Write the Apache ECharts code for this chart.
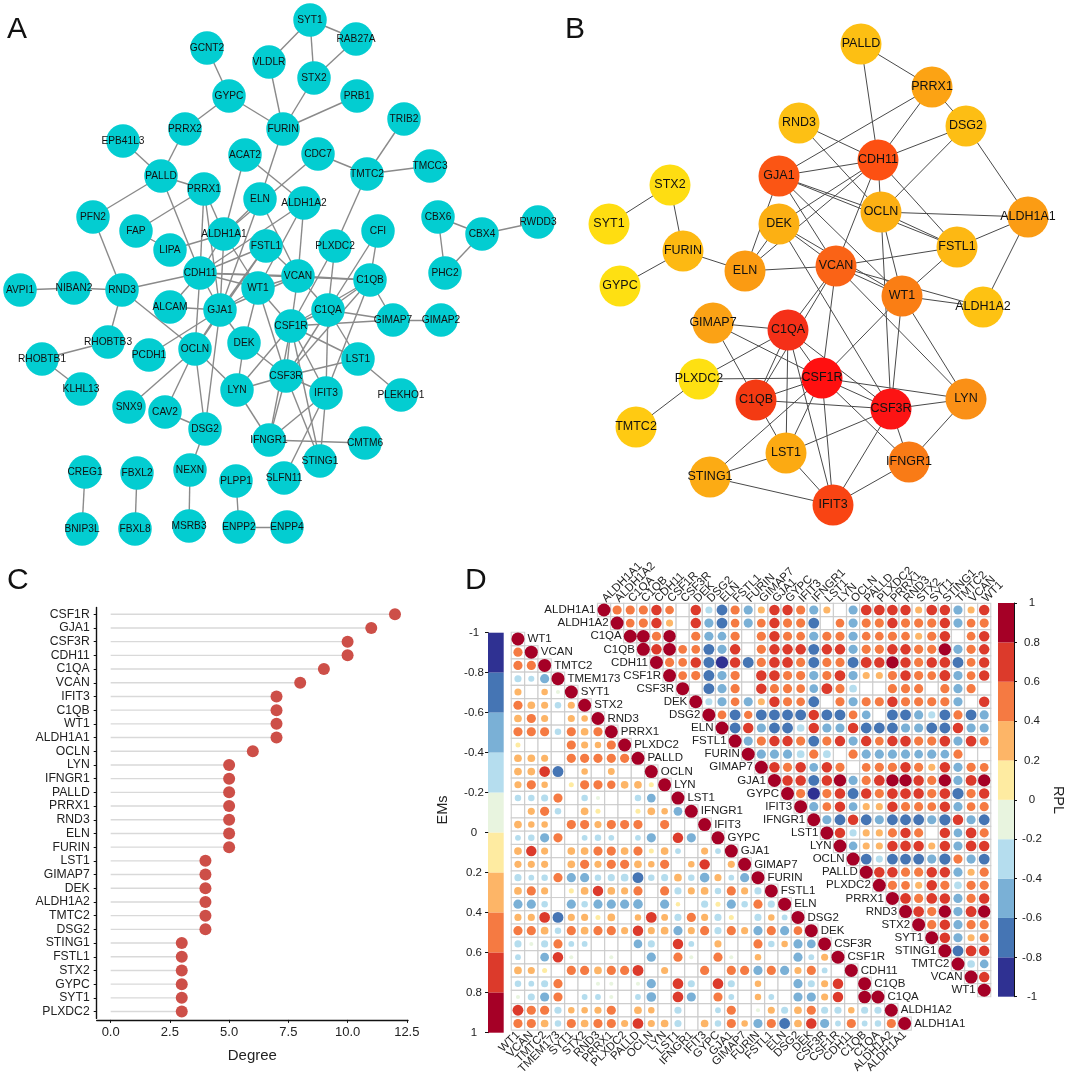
<!DOCTYPE html>
<html><head><meta charset="utf-8">
<style>html,body{margin:0;padding:0;background:#fff}#c{width:1065px;height:1077px}</style>
<script src="https://cdn.jsdelivr.net/npm/echarts@6/dist/echarts.min.js"></script>
</head><body><div id="c"></div>
<script>
// ---------- Panel A network ----------
const aNames=["SYT1","RAB27A","GCNT2","VLDLR","STX2","GYPC","PRB1","FURIN","PRRX2","TRIB2","EPB41L3","ACAT2","CDC7","TMTC2","TMCC3","PALLD","PRRX1","ELN","ALDH1A2","PFN2","FAP","LIPA","ALDH1A1","FSTL1","PLXDC2","CFI","CBX6","CBX4","RWDD3","PHC2","CDH11","VCAN","C1QB","WT1","AVPI1","NIBAN2","RND3","ALCAM","GJA1","C1QA","GIMAP7","GIMAP2","CSF1R","RHOBTB3","OCLN","DEK","PCDH1","RHOBTB1","LST1","CSF3R","KLHL13","LYN","IFIT3","PLEKHO1","SNX9","CAV2","DSG2","IFNGR1","CMTM6","STING1","NEXN","SLFN11","CREG1","FBXL2","PLPP1","BNIP3L","FBXL8","MSRB3","ENPP2","ENPP4"];
const aLayoutX=[310,356,207,269,314,229,357,283,185,404,123,245,318,367,430,161,204,260,304,93,136,170,224,266,335,378,438,482,538,445,200,298,370,258,20,74,122,170,220,328,393,441,291,108,195,244,149,42,358,286,81,237,326,401,129,165,205,269,365,320,190,284,85,137,236,82,135,189,239,287];
const aLayoutY=[20,39,48,62,78,96,96,129,129,119,141,155,154,174,166,176,189,199,203,217,231,250,234,246,246,231,217,234,222,273,273,276,280,288,290,288,290,307,310,310,320,320,326,342,349,343,355,359,359,376,389,390,393,395,407,412,429,440,443,461,470,478,472,473,481,529,529,526,527,527];
const aEdges=[["SYT1","RAB27A"],["SYT1","VLDLR"],["SYT1","STX2"],["RAB27A","STX2"],["GCNT2","GYPC"],["VLDLR","FURIN"],["STX2","FURIN"],["GYPC","FURIN"],["GYPC","PRRX2"],["PRB1","FURIN"],["PRRX2","PALLD"],["EPB41L3","PALLD"],["TRIB2","TMTC2"],["CDC7","TMTC2"],["TMCC3","TMTC2"],["CDC7","ALDH1A1"],["FURIN","ELN"],["ACAT2","ALDH1A2"],["ACAT2","ALDH1A1"],["PALLD","PRRX1"],["PALLD","PFN2"],["PALLD","CDH11"],["PRRX1","FAP"],["PRRX1","CDH11"],["PRRX1","ALDH1A1"],["PRRX1","GJA1"],["ELN","GJA1"],["ELN","ALDH1A1"],["ELN","VCAN"],["ALDH1A2","CDH11"],["ALDH1A2","VCAN"],["ALDH1A2","WT1"],["TMTC2","PLXDC2"],["PFN2","RND3"],["FAP","LIPA"],["LIPA","ALDH1A1"],["ALDH1A1","CDH11"],["ALDH1A1","WT1"],["ALDH1A1","GJA1"],["FSTL1","CDH11"],["FSTL1","VCAN"],["FSTL1","GJA1"],["FSTL1","OCLN"],["CFI","C1QA"],["CFI","C1QB"],["PLXDC2","C1QA"],["PLXDC2","CSF1R"],["CBX6","CBX4"],["CBX6","PHC2"],["CBX4","PHC2"],["CBX4","RWDD3"],["CDH11","VCAN"],["CDH11","C1QB"],["VCAN","C1QB"],["VCAN","C1QA"],["VCAN","WT1"],["VCAN","CSF1R"],["CDH11","RND3"],["CDH11","WT1"],["CDH11","GJA1"],["CDH11","OCLN"],["CDH11","ALCAM"],["AVPI1","NIBAN2"],["NIBAN2","RND3"],["RND3","RHOBTB3"],["RND3","OCLN"],["RHOBTB3","RHOBTB1"],["RHOBTB1","KLHL13"],["ALCAM","GJA1"],["GJA1","WT1"],["GJA1","VCAN"],["GJA1","OCLN"],["GJA1","PCDH1"],["GJA1","DEK"],["GJA1","DSG2"],["WT1","DEK"],["WT1","CSF1R"],["WT1","CSF3R"],["C1QB","C1QA"],["C1QB","GIMAP7"],["C1QB","CSF1R"],["C1QB","CSF3R"],["C1QB","IFIT3"],["C1QA","GIMAP7"],["C1QA","CSF1R"],["C1QA","CSF3R"],["C1QA","LST1"],["C1QA","IFIT3"],["GIMAP7","GIMAP2"],["GIMAP7","CSF1R"],["CSF1R","LST1"],["CSF1R","CSF3R"],["CSF1R","LYN"],["CSF1R","IFIT3"],["CSF1R","IFNGR1"],["CSF1R","STING1"],["DEK","CSF3R"],["DEK","LYN"],["OCLN","LYN"],["OCLN","SNX9"],["OCLN","CAV2"],["OCLN","DSG2"],["CAV2","DSG2"],["DSG2","NEXN"],["NEXN","MSRB3"],["LST1","CSF3R"],["LST1","PLEKHO1"],["CSF3R","LYN"],["CSF3R","IFIT3"],["CSF3R","IFNGR1"],["CSF3R","STING1"],["LYN","IFNGR1"],["IFIT3","IFNGR1"],["IFIT3","STING1"],["IFIT3","SLFN11"],["IFNGR1","CMTM6"],["CREG1","BNIP3L"],["FBXL2","FBXL8"],["PLPP1","ENPP2"],["ENPP2","ENPP4"]];
// ---------- Panel B network ----------
const bNames=["PALLD","PRRX1","DSG2","RND3","CDH11","GJA1","STX2","OCLN","ALDH1A1","SYT1","DEK","FURIN","FSTL1","ELN","VCAN","GYPC","WT1","ALDH1A2","GIMAP7","C1QA","CSF1R","PLXDC2","LYN","C1QB","CSF3R","TMTC2","LST1","IFNGR1","STING1","IFIT3"];
const bLayoutX=[861,932,966,799,878,779,670,881,1028,609,779,683,957,745,836,620,902,983,713,788,822,699,966,756,891,636,786,909,710,833];
const bLayoutY=[44,87,126,123,160,176,185,212,217,224,224,251,247,271,266,286,296,307,323,330,378,379,399,400,409,427,453,462,477,505];
const bNodeColors=["#fdbf13","#fca314","#fdbe14","#fdc014","#fd5012","#fb5514","#fedd12","#fcb013","#fb9c14","#ffdd11","#fcb013","#fdb912","#fdb813","#fb9b12","#fa6316","#fee012","#fa7e14","#fec212","#fba215","#f53018","#ff1010","#fee012","#fa9016","#f43a12","#fc1414","#ffca12","#fcaa12","#f97b16","#fcab14","#f94413"];
const bEdges=[["PALLD","PRRX1"],["PALLD","CDH11"],["PRRX1","DSG2"],["PRRX1","CDH11"],["PRRX1","GJA1"],["DSG2","CDH11"],["DSG2","OCLN"],["DSG2","ALDH1A1"],["RND3","CDH11"],["RND3","OCLN"],["GJA1","CDH11"],["GJA1","OCLN"],["GJA1","FSTL1"],["CDH11","OCLN"],["CDH11","DEK"],["CDH11","ELN"],["CDH11","VCAN"],["CDH11","FSTL1"],["GJA1","ELN"],["GJA1","VCAN"],["GJA1","WT1"],["DEK","ELN"],["DEK","VCAN"],["DEK","WT1"],["DEK","CSF3R"],["OCLN","ALDH1A1"],["OCLN","FSTL1"],["OCLN","WT1"],["OCLN","CSF3R"],["FSTL1","ALDH1A1"],["FSTL1","VCAN"],["FSTL1","WT1"],["ALDH1A1","ALDH1A2"],["ELN","FURIN"],["ELN","VCAN"],["FURIN","STX2"],["FURIN","GYPC"],["STX2","SYT1"],["VCAN","C1QA"],["VCAN","C1QB"],["VCAN","CSF1R"],["VCAN","WT1"],["VCAN","ALDH1A2"],["VCAN","LYN"],["WT1","ALDH1A2"],["WT1","CSF1R"],["WT1","CSF3R"],["WT1","LYN"],["GIMAP7","C1QA"],["GIMAP7","CSF1R"],["GIMAP7","C1QB"],["C1QA","PLXDC2"],["C1QA","C1QB"],["C1QA","CSF1R"],["C1QA","CSF3R"],["C1QA","LST1"],["C1QA","IFIT3"],["PLXDC2","CSF1R"],["PLXDC2","TMTC2"],["C1QB","CSF1R"],["C1QB","CSF3R"],["C1QB","LST1"],["CSF1R","CSF3R"],["CSF1R","LYN"],["CSF1R","IFNGR1"],["CSF1R","IFIT3"],["CSF1R","LST1"],["CSF1R","STING1"],["CSF3R","LYN"],["CSF3R","IFNGR1"],["CSF3R","IFIT3"],["CSF3R","LST1"],["LYN","IFNGR1"],["LST1","STING1"],["LST1","IFIT3"],["STING1","IFIT3"],["IFNGR1","IFIT3"]];
// ---------- Panel C lollipop ----------
const degreeGenes=["CSF1R","GJA1","CSF3R","CDH11","C1QA","VCAN","IFIT3","C1QB","WT1","ALDH1A1","OCLN","LYN","IFNGR1","PALLD","PRRX1","RND3","ELN","FURIN","LST1","GIMAP7","DEK","ALDH1A2","TMTC2","DSG2","STING1","FSTL1","STX2","GYPC","SYT1","PLXDC2"];
const degreeValues=[12,11,10,10,9,8,7,7,7,7,6,5,5,5,5,5,5,5,4,4,4,4,4,4,3,3,3,3,3,3];
const degreeTicks=[0,2.5,5,7.5,10,12.5];
// ---------- Panel D correlation triangles ----------
const lowerGenes=["WT1","VCAN","TMTC2","TMEM173","SYT1","STX2","RND3","PRRX1","PLXDC2","PALLD","OCLN","LYN","LST1","IFNGR1","IFIT3","GYPC","GJA1","GIMAP7","FURIN","FSTL1","ELN","DSG2","DEK","CSF3R","CSF1R","CDH11","C1QB","C1QA","ALDH1A2","ALDH1A1"];
const upperGenes=["ALDH1A1","ALDH1A2","C1QA","C1QB","CDH11","CSF1R","CSF3R","DEK","DSG2","ELN","FSTL1","FURIN","GIMAP7","GJA1","GYPC","IFIT3","IFNGR1","LST1","LYN","OCLN","PALLD","PLXDC2","PRRX1","RND3","STX2","SYT1","STING1","TMTC2","VCAN","WT1"];
// lowerRows[i] = values of columns 0..i-1; 0 = blank cell
const lowerRows=[[],
[.5],
[.5,.5],
[-.3,-.22,-.5],
[.3,0,.25,-.1],
[.5,.35,.3,-.25,.3],
[.35,.5,.3,0,.3,.25],
[.5,.5,.5,-.25,.5,.35,.5],
[.15,0,0,0,.5,.3,.25,.5],
[.35,.35,.3,0,.5,.5,.5,.5,.5],
[.35,.35,.68,-.7,0,.25,0,.28,0,0],
[.3,.5,.25,0,.15,.5,.5,.42,.35,.35,.15],
[-.25,-.25,-.3,.5,0,-.25,-.1,0,0,-.25,-.45,0],
[0,.3,.5,-.25,0,.35,.15,0,0,.15,.35,.25,-.45],
[.35,.25,.25,0,.5,.5,.3,.5,.5,.5,0,.5,0,0],
[-.2,-.25,-.5,.5,0,-.2,-.25,-.2,0,-.2,-.5,0,.65,-.5,0],
[.35,.65,.3,0,.35,.35,.5,.5,.35,.5,.15,.35,-.2,0,.3,-.2],
[.3,.3,.3,0,.35,.5,.3,.5,.5,.35,.25,.5,0,.25,.65,0,.3],
[-.3,-.2,-.25,.5,-.5,-.5,-.25,-.3,-.35,-.7,-.25,-.3,.35,-.25,-.55,.3,-.2,-.5],
[.35,.5,.3,0,.15,.35,.65,.35,.3,.5,0,.5,-.3,.3,.35,-.25,.5,.3,-.3],
[-.5,-.5,-.25,0,-.5,-.25,-.5,-.5,-.5,-.55,0,-.5,.12,0,-.3,.15,-.5,-.25,.5,-.3],
[.3,.3,.68,-.7,.3,.3,.15,.35,0,.25,.68,.28,-.3,.5,.3,-.3,.15,0,-.3,.25,-.2],
[.5,.5,.35,-.25,.5,.35,.5,.5,.3,.65,.3,.35,-.5,.3,.5,-.3,.5,.3,-.5,.5,-.5,.45],
[-.3,-.1,-.3,.5,-.2,-.2,0,0,0,-.45,-.3,0,.65,-.2,0,.3,0,0,.5,-.25,.25,-.5,-.45],
[-.2,0,-.45,.65,-.1,0,0,-.1,0,0,-.5,0,.5,-.1,0,.5,-.1,0,.25,0,0,-.5,-.2,.3],
[.35,.3,.15,0,.5,.5,.35,.5,.5,.7,0,.3,0,0,.5,0,.5,.5,-.5,.5,-.5,.3,.5,-.2,0],
[-.25,-.2,-.3,.5,0,0,-.1,-.1,0,-.1,-.5,0,.68,-.3,0,.68,-.3,0,.25,0,0,-.5,-.3,.3,.65,0],
[-.1,-.3,-.5,.5,0,-.2,-.2,-.1,0,-.2,-.55,0,.68,-.5,0,.5,-.2,0,.25,-.2,0,-.5,-.5,.3,.65,0,.95],
[.7,.5,.5,-.3,.25,.25,.3,.5,0,.35,.25,0,-.3,0,0,-.2,.5,0,-.1,.3,-.3,.35,.5,-.3,-.3,.25,-.3,-.3],
[.5,.5,.35,-.25,.5,.35,.5,.5,.3,.68,.3,.35,-.3,0,.35,-.25,.5,.25,-.5,.5,-.7,.35,.65,-.5,-.2,.5,-.2,-.25,.5]];
// upperRows[i] = values of columns i+1..29; 0 = blank cell
const upperRows=[
[.5,.5,.5,.65,.45,0,.65,-.3,-.7,.5,-.5,.3,.65,.65,.5,-.5,.3,0,-.5,.68,.68,.68,.65,.3,.68,.65,-.5,.3,.65],
[.45,.5,.65,.3,0,.65,-.5,-.7,.45,-.5,.45,.65,.5,.5,-.7,0,.45,-.5,.5,.5,.65,.5,.5,.5,.65,-.5,.45,.5],
[.95,.5,.9,0,.5,-.5,-.45,.5,0,.5,.65,.5,.45,-.5,.5,.5,-.5,.45,.45,.5,.45,.3,.5,.65,0,.45,.65],
[.65,.95,.45,.45,-.7,-.5,.65,0,.5,.65,.65,.65,-.7,.65,.65,-.5,.5,.5,.65,.65,.5,.5,.9,-.5,.5,.65],
[.5,.45,.65,-.7,-.9,.65,-.7,.5,.68,.68,.5,-.7,.5,.5,-.7,.7,.65,.9,.65,.5,.65,.68,-.7,.45,.65],
[.45,.5,-.7,-.5,.5,0,.65,.68,.5,.5,-.5,.5,.68,-.5,.3,.3,.5,.65,.5,.45,.7,-.5,.45,.65],
[0,-.7,-.5,.5,0,.65,.5,.5,.45,-.45,.7,.5,-.35,0,0,.5,.5,.5,0,.5,-.5,.5,0],
[-.3,-.5,.45,-.5,.3,.65,.5,.45,-.7,0,.5,-.5,.5,.5,.65,.5,.5,.5,.5,-.5,0,.65],
[.45,-.7,.42,-.7,-.7,-.7,-.7,.65,-.7,-.7,.45,-.45,0,-.7,-.7,-.5,-.3,-.7,.5,-.7,-.5],
[-.7,.65,-.5,-.7,-.7,-.35,.65,-.5,-.5,.65,-.7,-.7,-.7,-.5,-.5,-.7,-.7,.65,-.5,-.5],
[-.5,.5,.65,.65,.5,-.7,.5,.65,-.5,.65,.45,.65,.68,.5,.5,.68,-.5,.68,.5],
[-.5,-.5,-.5,-.35,.5,-.35,0,.5,-.5,-.5,-.5,-.5,-.45,-.5,-.45,.5,0,0],
[.65,.5,.65,-.45,.65,.5,0,.45,.5,.5,.65,.5,.3,.65,-.5,.5,.45],
[.65,.65,-.7,.65,.9,-.5,.5,.68,.9,.9,.65,.5,.9,-.5,.7,.9],
[.5,-.9,.5,.65,-.7,.65,.5,.68,.68,.65,.5,.68,-.75,.5,.65],
[-.5,.45,.65,-.45,.3,.3,.65,.5,.5,.45,.65,-.5,.45,.5],
[-.5,-.7,.65,-.7,-.5,-.7,-.7,-.7,-.5,-.75,.65,-.5,-.7],
[.65,-.3,.3,.3,.5,.65,.5,0,.65,-.45,.68,.5],
[-.45,.3,.3,.65,.68,.65,.3,.65,-.5,.68,.65],
[-.7,-.3,-.7,-.7,-.7,-.5,-.75,.5,-.5,-.7],
[.65,.65,.5,.5,.65,.65,-.5,.3,.5],
[.5,.45,.3,.65,.5,-.35,.5,.5],
[.68,.5,.68,.65,-.5,.5,.65],
[.68,.5,.9,-.5,.7,.9],
[.5,.65,-.5,.5,.5],
[.65,-.5,.3,.5],
[-.7,.68,.65],
[-.35,-.45],
[.65],
[]];
const levelTicks=[-1,-.8,-.6,-.4,-.2,0,.2,.4,.6,.8,1];
const levelColors=["#2f3192","#4575b4","#7ab0d6","#b5ddee","#e8f4df","#feeba1","#fdb567","#f57a42","#dc3a2b","#a50026"];

// ---------- helpers ----------
const FONT='"Liberation Sans",Arial,sans-serif';
const colorOf=v=>levelColors[Math.max(0,Math.floor((v+1)/.2-1e-9))];
const dotSize=v=>13*Math.sqrt(Math.abs(v));
function graphSeries(names,xs,ys,edges,size,fs,color,lc,lw){
  return {type:'graph',layout:'none',coordinateSystem:'cartesian2d',xAxisIndex:0,yAxisIndex:0,symbol:'circle',symbolSize:size,animation:false,silent:true,
    data:names.map((n,i)=>({name:n,value:[xs[i],ys[i]],itemStyle:{color:typeof color==='string'?color:color[i]}})),
    links:edges.map(e=>({source:e[0],target:e[1]})),
    lineStyle:{color:lc,width:lw,opacity:1,curveness:0},
    label:{show:true,position:'inside',formatter:'{b}',color:'#111',fontFamily:FONT,fontSize:fs}};
}
function cellData(rows,upper){
  const out=[];
  rows.forEach((r,i)=>r.forEach((v,k)=>{const j=upper?i+1+k:k;out.push([j,i,v]);}));
  return out;
}
const lowerCells=cellData(lowerRows,false), upperCells=cellData(upperRows,true);
const diag=lowerGenes.map((_,i)=>[i,i,1]);
function triangleSeries(cells,gi,cw,genes,pos,dist){
  return [
   {type:'scatter',xAxisIndex:gi,yAxisIndex:gi,symbol:'rect',symbolSize:cw,animation:false,silent:true,
    data:cells.concat(diag),itemStyle:{color:'#fff',borderColor:'#c9c9c9',borderWidth:1.2}},
   {type:'scatter',xAxisIndex:gi,yAxisIndex:gi,symbol:'circle',animation:false,silent:true,z:3,
    data:cells.filter(c=>c[2]!==0),symbolSize:d=>dotSize(d[2]),itemStyle:{color:p=>colorOf(p.value[2]),opacity:1}},
   {type:'scatter',xAxisIndex:gi,yAxisIndex:gi,symbol:'circle',animation:false,silent:true,z:4,
    data:diag,symbolSize:d=>dotSize(d[2]),itemStyle:{color:levelColors[9],opacity:1},
    label:{show:true,position:pos,distance:dist,color:'#222',fontFamily:FONT,fontSize:11.5,formatter:p=>genes[p.value[0]]}}
  ];
}
function barSeries(gi){
  return {type:'custom',xAxisIndex:gi,yAxisIndex:gi,animation:false,silent:true,
    data:levelColors.map((c,i)=>[levelTicks[i],levelTicks[i+1]]),
    encode:{y:[0,1]},
    renderItem:(p,api)=>{
      const a=api.coord([0,api.value(0)]),b=api.coord([1,api.value(1)]);
      return {type:'rect',shape:{x:a[0],y:Math.min(a[1],b[1]),width:b[0]-a[0],height:Math.abs(b[1]-a[1])},style:{fill:levelColors[p.dataIndex]}};
    }};
}
const fmtLevel=v=>String(Math.round(v*10)/10);
const hiddenVal=(min,max,inv)=>({type:'value',show:false,min,max,inverse:!!inv,splitLine:{show:false}});
const triAxisX=(gi,genes,pos,rot,al)=>({type:'category',gridIndex:gi,data:genes,position:pos,boundaryGap:true,axisLine:{show:false},axisTick:{show:false},splitLine:{show:false},
   axisLabel:Object.assign({interval:0,rotate:rot,margin:3,fontFamily:FONT,fontSize:11.5,color:'#222',hideOverlap:false},al||{})});
const triAxisY=(gi,genes)=>({type:'category',gridIndex:gi,data:genes,inverse:true,show:false});

const option={
  backgroundColor:'#fff',
  animation:false,
  textStyle:{fontFamily:FONT},
  grid:[
    {left:0,top:0,width:1065,height:1077},
    {left:96.7,top:607.4,width:311.3,height:411},
    {left:511.3,top:632.3,width:400,height:400},
    {left:597.45,top:603.45,width:393.3,height:393.3},
    {left:488,top:632.7,width:15.7,height:400},
    {left:998,top:603,width:16,height:393.7}
  ],
  xAxis:[
    Object.assign(hiddenVal(0,1065),{gridIndex:0}),
    {type:'value',gridIndex:1,min:-0.59,max:12.55,offset:1.5,splitLine:{show:false},
      name:'Degree',nameLocation:'middle',nameGap:28,nameTextStyle:{fontFamily:FONT,fontSize:15,color:'#222'},
      axisLine:{show:true,onZero:false,lineStyle:{color:'#111',width:1.4}},
      axisTick:{show:true,length:3,customValues:degreeTicks,lineStyle:{color:'#111'}},
      axisLabel:{customValues:degreeTicks,formatter:v=>v.toFixed(1),fontFamily:FONT,fontSize:13,color:'#222',margin:6}},
    triAxisX(2,lowerGenes,'bottom',45),
    triAxisX(3,upperGenes,'top',-45,{align:'left',verticalAlign:'middle'}),
    Object.assign(hiddenVal(0,1),{gridIndex:4}),
    Object.assign(hiddenVal(0,1),{gridIndex:5})
  ],
  yAxis:[
    Object.assign(hiddenVal(0,1077,true),{gridIndex:0}),
    {type:'category',gridIndex:1,data:degreeGenes,inverse:true,
      axisLine:{show:true,onZero:false,lineStyle:{color:'#111',width:1.4}},
      axisTick:{show:true,length:3,alignWithLabel:true,lineStyle:{color:'#111'}},
      axisLabel:{interval:0,fontFamily:FONT,fontSize:12.2,color:'#222',margin:7}},
    triAxisY(2,lowerGenes),
    triAxisY(3,upperGenes),
    {type:'value',gridIndex:4,position:'left',inverse:true,min:-1,max:1,interval:.2,splitLine:{show:false},
      axisLine:{show:true,onZero:false,lineStyle:{color:'#111'}},axisTick:{show:true,length:3,lineStyle:{color:'#111'}},
      axisLabel:{formatter:fmtLevel,align:'center',margin:14,fontFamily:FONT,fontSize:11.5,color:'#222'}},
    {type:'value',gridIndex:5,position:'right',min:-1,max:1,interval:.2,splitLine:{show:false},
      axisLine:{show:true,onZero:false,lineStyle:{color:'#111'}},axisTick:{show:true,length:3,lineStyle:{color:'#111'}},
      axisLabel:{formatter:fmtLevel,align:'center',margin:18,fontFamily:FONT,fontSize:11.5,color:'#222'}}
  ],
  series:[
    graphSeries(aNames,aLayoutX,aLayoutY,aEdges,33.5,10.2,'#03cdd1','#8a8a8a',1.4),
    graphSeries(bNames,bLayoutX,bLayoutY,bEdges,41,12.5,bNodeColors,'#4a4a4a',1),
    {type:'bar',xAxisIndex:1,yAxisIndex:1,data:degreeValues,barWidth:1.4,animation:false,silent:true,itemStyle:{color:'#d9d9d9'}},
    {type:'scatter',xAxisIndex:1,yAxisIndex:1,data:degreeValues.map((v,i)=>[v,i]),symbolSize:12,animation:false,silent:true,z:3,itemStyle:{color:'#cd4f48',opacity:1}},
    ...triangleSeries(lowerCells,2,13.33,lowerGenes,'right',3),
    ...triangleSeries(upperCells,3,13.11,upperGenes,'left',2),
    barSeries(4),
    barSeries(5)
  ],
  graphic:[
    {type:'text',left:7,top:15,style:{text:'A',font:'30px '+FONT,fill:'#111'}},
    {type:'text',left:565,top:15,style:{text:'B',font:'30px '+FONT,fill:'#111'}},
    {type:'text',left:7,top:566,style:{text:'C',font:'30px '+FONT,fill:'#111'}},
    {type:'text',left:465,top:566,style:{text:'D',font:'30px '+FONT,fill:'#111'}},
    {type:'text',x:443,y:810,rotation:Math.PI/2,style:{text:'EMs',font:'14.5px '+FONT,fill:'#222',align:'center',verticalAlign:'middle'}},
    {type:'text',x:1058,y:800,rotation:-Math.PI/2,style:{text:'RPL',font:'14.5px '+FONT,fill:'#222',align:'center',verticalAlign:'middle'}}
  ]
};
const chart=echarts.init(document.getElementById('c'),null,{renderer:'canvas'});
chart.setOption(option);
</script></body></html>
